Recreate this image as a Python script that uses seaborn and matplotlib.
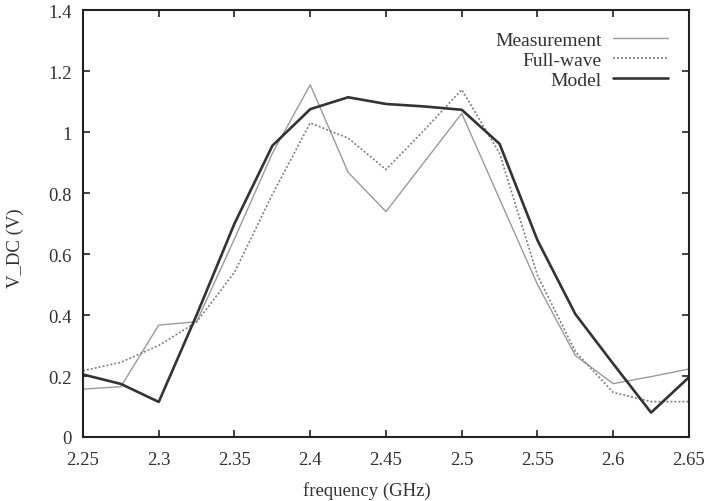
import numpy as np
import pandas as pd
import matplotlib
matplotlib.use("Agg")
import matplotlib.pyplot as plt
import seaborn as sns

freq = [2.25, 2.275, 2.3, 2.325, 2.35, 2.375, 2.4, 2.425, 2.45, 2.475,
        2.5, 2.525, 2.55, 2.575, 2.6, 2.625, 2.65]
measurement = [0.157, 0.165, 0.367, 0.378, 0.65, 0.93, 1.155, 0.868, 0.739, 0.90,
               1.061, 0.78, 0.50, 0.267, 0.175, 0.198, 0.223]
full_wave = [0.217, 0.245, 0.30, 0.377, 0.54, 0.795, 1.03, 0.98, 0.877, 1.005,
             1.139, 0.93, 0.53, 0.28, 0.146, 0.116, 0.116]
model = [0.205, 0.174, 0.115, 0.40, 0.70, 0.955, 1.075, 1.114, 1.092, 1.084,
         1.073, 0.961, 0.645, 0.403, 0.24, 0.08, 0.196]
xticks = [2.25, 2.3, 2.35, 2.4, 2.45, 2.5, 2.55, 2.6, 2.65]
yticks = [0, 0.2, 0.4, 0.6, 0.8, 1.0, 1.2, 1.4]

sns.set_style("ticks")
plt.rcParams['font.family'] = ['Liberation Serif', 'DejaVu Serif']

fig = plt.figure(figsize=(7.07, 5.02), dpi=100)
ax = fig.add_axes([0.1174, 0.1275, 0.8571, 0.8505])

df = pd.DataFrame({"freq": freq, "Measurement": measurement,
                   "Full-wave": full_wave, "Model": model})

sns.lineplot(data=df, x="freq", y="Measurement", ax=ax, color="#9a9a9a",
             linewidth=1.0, label="Measurement")
sns.lineplot(data=df, x="freq", y="Full-wave", ax=ax, color="#808080",
             linewidth=1.2, linestyle=(0, (1.2, 1.2)), label="Full-wave")
sns.lineplot(data=df, x="freq", y="Model", ax=ax, color="#333333",
             linewidth=1.9, label="Model")

ax.set_xlim(2.25, 2.65)
ax.set_ylim(0, 1.4)
ax.set_xticks(xticks)
ax.set_xticklabels([("%g" % v) for v in xticks])
ax.set_yticks(yticks)
ax.set_yticklabels([("%g" % v) for v in yticks])
ax.tick_params(direction="in", length=5, width=1.2, top=True, right=True,
               labelsize=13.5, colors="#222222", labelcolor="#333333")
ax.tick_params(axis="x", pad=10)
ax.tick_params(axis="y", pad=8)
for s in ax.spines.values():
    s.set_linewidth(1.5)
    s.set_color("#222222")
ax.set_xlabel("frequency (GHz)", fontsize=13.5, color="#333333")
ax.set_ylabel("V_DC (V)", fontsize=13.5, color="#333333")
ax.xaxis.set_label_coords(0.469, -0.103)
ax.yaxis.set_label_coords(-0.097, 0.445)

leg = ax.legend(loc="upper right", frameon=False, markerfirst=False,
                fontsize=14, handlelength=2.8, labelspacing=0.12,
                borderaxespad=0.7, handletextpad=0.6)
for t in leg.get_texts():
    t.set_color("#333333")
leg._legend_box.align = "right"

fig.savefig("out.png", dpi=100)
